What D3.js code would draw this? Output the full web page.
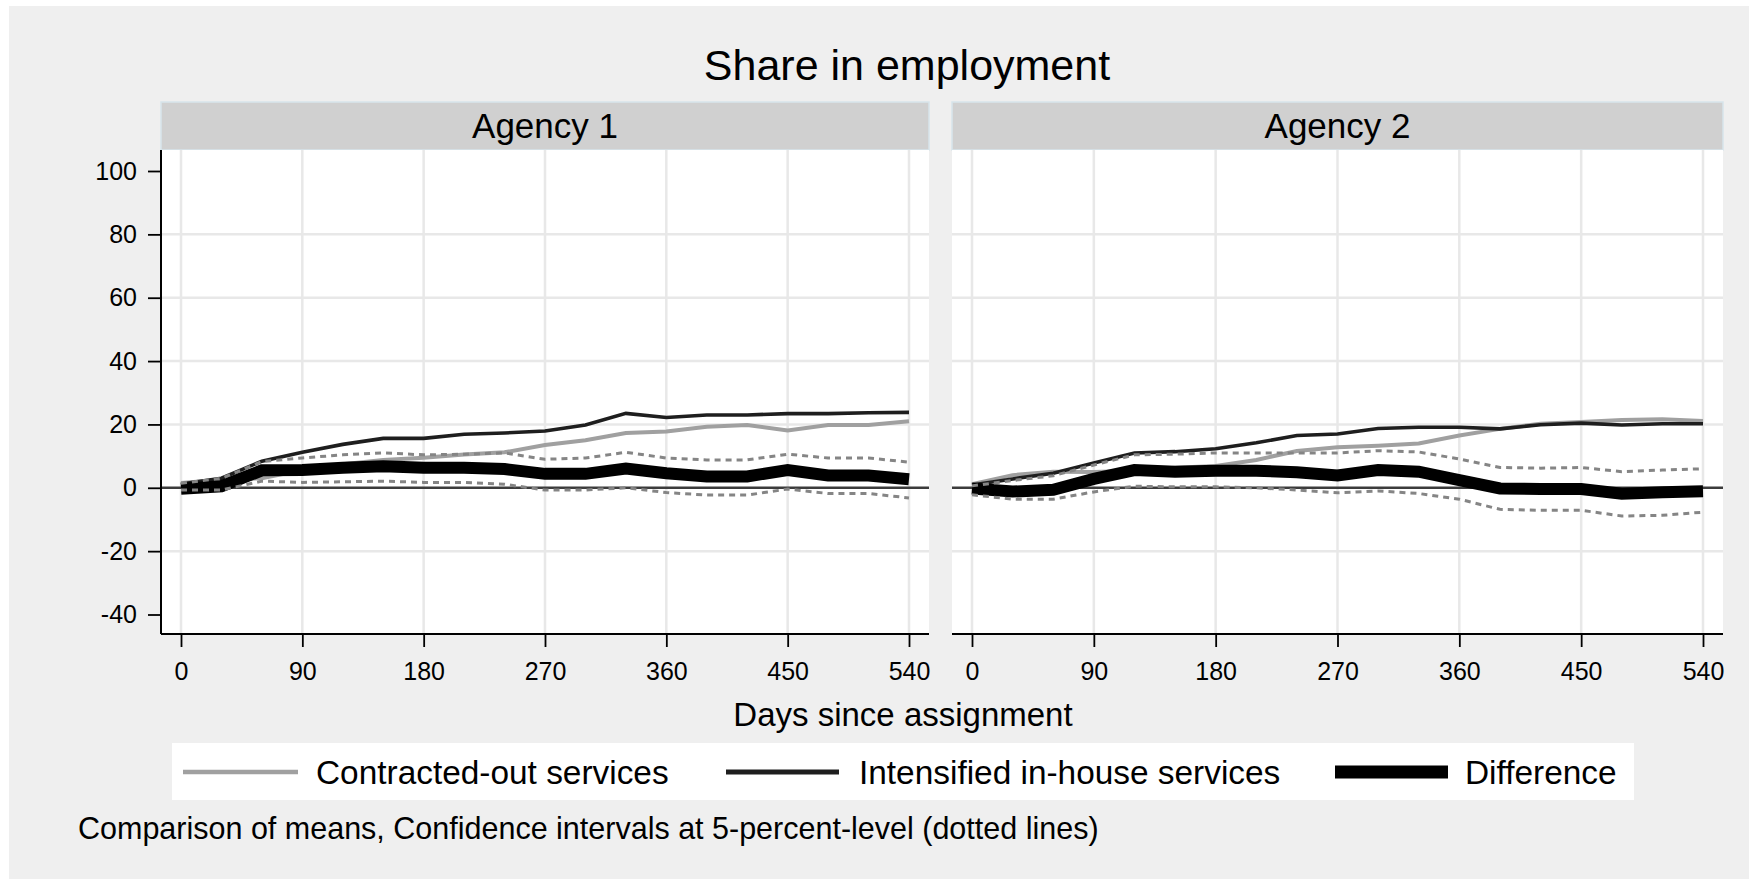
<!DOCTYPE html>
<html>
<head>
<meta charset="utf-8">
<script src="https://cdn.jsdelivr.net/npm/d3@7/dist/d3.min.js"></script>
<style>
  html, body { margin: 0; padding: 0; background: #ffffff; }
  svg { display: block; }
  text { font-family: "Liberation Sans", Arial, sans-serif; fill: #000; }
</style>
</head>
<body>
<svg id="chart" width="1749" height="879"></svg>
<script>
// Days since assignment (observation points)
const days = [0, 30, 60, 90, 120, 150, 180, 210, 240, 270, 300, 330, 360, 390, 420, 450, 480, 510, 540];

// Agency 1: share in employment (percent)
const agency1Contracted = [1.5, 2.5, 3.0, 5.6, 7.4, 8.8, 9.5, 10.5, 11.2, 13.5, 15.0, 17.3, 17.8, 19.3, 19.8, 18.1, 19.8, 19.8, 21.0];
const agency1InHouse    = [1.2, 3.0, 8.4, 11.2, 13.7, 15.6, 15.6, 16.9, 17.3, 17.9, 19.8, 23.5, 22.2, 23.0, 23.0, 23.4, 23.4, 23.7, 23.8];
const agency1Diff       = [-0.3, 0.5, 5.5, 5.6, 6.3, 6.8, 6.3, 6.3, 5.9, 4.4, 4.4, 6.1, 4.6, 3.6, 3.6, 5.6, 3.9, 3.9, 2.7];
const agency1Upper      = [1.4, 3.0, 8.3, 9.4, 10.4, 11.0, 10.4, 10.6, 11.0, 9.0, 9.4, 11.2, 9.4, 8.8, 8.8, 10.6, 9.4, 9.4, 8.1];
const agency1Lower      = [-0.7, -0.7, 2.1, 1.7, 1.9, 2.1, 1.7, 1.7, 1.1, -0.7, -0.7, 0.0, -1.5, -2.3, -2.3, -0.4, -1.8, -1.8, -3.2];

// Agency 2: share in employment (percent)
const agency2Contracted = [1.1, 4.0, 5.1, 5.0, 5.4, 6.3, 6.9, 8.8, 11.6, 12.8, 13.3, 14.0, 16.5, 18.6, 20.2, 20.8, 21.4, 21.6, 21.1];
const agency2InHouse    = [0.9, 2.8, 4.6, 7.8, 11.0, 11.4, 12.3, 14.2, 16.5, 17.0, 18.7, 19.1, 19.1, 18.6, 19.9, 20.4, 19.8, 20.2, 20.2];
const agency2Diff       = [-0.2, -1.2, -0.6, 2.8, 5.6, 5.1, 5.4, 5.4, 4.9, 3.9, 5.6, 5.1, 2.4, -0.2, -0.4, -0.4, -1.9, -1.4, -1.1];
const agency2Upper      = [0.6, 2.3, 3.8, 7.2, 10.4, 10.6, 11.0, 11.0, 11.0, 11.0, 11.7, 11.3, 9.1, 6.4, 6.2, 6.4, 5.1, 5.6, 6.0];
const agency2Lower      = [-2.2, -3.6, -3.6, -1.3, 0.5, 0.3, 0.3, 0.0, -0.7, -1.6, -1.0, -1.8, -3.6, -6.8, -7.1, -7.1, -8.9, -8.7, -7.7];

// Axis ticks and labels
const xTicks = [0, 90, 180, 270, 360, 450, 540];
const yTicks = [-40, -20, 0, 20, 40, 60, 80, 100];
const yGrid = [-20, 20, 40, 60, 80];
const panelNames = ["Agency 1", "Agency 2"];
const seriesNames = ["Contracted-out services", "Intensified in-house services", "Difference"];
const titleText = "Share in employment";
const xTitleText = "Days since assignment";
const noteText = "Comparison of means, Confidence intervals at 5-percent-level (dotted lines)";

const panelData = [
  { contracted: agency1Contracted, inHouse: agency1InHouse, diff: agency1Diff, upper: agency1Upper, lower: agency1Lower },
  { contracted: agency2Contracted, inHouse: agency2InHouse, diff: agency2Diff, upper: agency2Upper, lower: agency2Lower }
];

const svg = d3.select("#chart");

// outer graph region
svg.append("rect").attr("x", 9).attr("y", 6).attr("width", 1749 - 9).attr("height", 879 - 6)
  .attr("fill", "#efefef");

// title
svg.append("text").attr("x", 907).attr("y", 80).attr("text-anchor", "middle")
  .style("font-size", "43px").text(titleText);

const plotTop = 150, plotBottom = 634;
const panelBox = [{ x0: 161, x1: 929 }, { x0: 952, x1: 1723 }];

const y = d3.scaleLinear().domain([-40, 100]).range([614.5, 171]);
const plainNumber = v => String(v);

const styles = {
  contracted: { stroke: "#a0a0a0", width: 4 },
  inHouse: { stroke: "#1e1e1e", width: 3.6 },
  diff: { stroke: "#000000", width: 12 }
};

panelBox.forEach((pb, i) => {
  const g = svg.append("g");
  const x = d3.scaleLinear().domain([0, 540]).range([pb.x0 + 20, pb.x1 - 20]);
  const d = panelData[i];

  // strip
  g.append("rect").attr("x", pb.x0).attr("y", 102).attr("width", pb.x1 - pb.x0).attr("height", 48)
    .attr("fill", "#d0d0d0").attr("stroke", "#d7e5eb").attr("stroke-width", 1.5);
  g.append("text").attr("x", (pb.x0 + pb.x1) / 2).attr("y", 138).attr("text-anchor", "middle")
    .style("font-size", "35px").text(panelNames[i]);

  // plot area
  g.append("rect").attr("x", pb.x0).attr("y", plotTop).attr("width", pb.x1 - pb.x0)
    .attr("height", plotBottom - plotTop).attr("fill", "#ffffff");

  // grid
  g.selectAll(".hgrid").data(yGrid).join("line")
    .attr("x1", pb.x0).attr("x2", pb.x1).attr("y1", v => y(v)).attr("y2", v => y(v))
    .attr("stroke", "#e8e8e8").attr("stroke-width", 2.5);
  g.selectAll(".vgrid").data(xTicks).join("line")
    .attr("x1", v => x(v)).attr("x2", v => x(v)).attr("y1", plotTop).attr("y2", plotBottom)
    .attr("stroke", "#e8e8e8").attr("stroke-width", 2.5);

  // reference line at zero
  g.append("line").attr("x1", pb.x0).attr("x2", pb.x1).attr("y1", y(0)).attr("y2", y(0))
    .attr("stroke", "#3c3c3c").attr("stroke-width", 2.6);

  const line = arr => d3.line().x((v, k) => x(days[k])).y(v => y(v))(arr);

  ["contracted", "inHouse", "diff"].forEach(key => {
    g.append("path").attr("d", line(d[key])).attr("fill", "none")
      .attr("stroke", styles[key].stroke).attr("stroke-width", styles[key].width)
      .attr("stroke-linejoin", "miter");
  });
  ["upper", "lower"].forEach(key => {
    g.append("path").attr("d", line(d[key])).attr("fill", "none")
      .attr("stroke", "#858585").attr("stroke-width", 3)
      .attr("stroke-dasharray", "6,5");
  });

  // x axis
  const xa = g.append("g").attr("transform", `translate(0,${plotBottom})`)
    .call(d3.axisBottom(x).tickValues(xTicks).tickFormat(plainNumber)
      .tickSize(13).tickSizeOuter(0).tickPadding(15));
  xa.select(".domain").remove();
  xa.selectAll(".tick line").attr("stroke", "#000").attr("stroke-width", 1.8);
  xa.selectAll(".tick text").style("font-size", "25px")
    .style("font-family", '"Liberation Sans", Arial, sans-serif');
  g.append("line").attr("x1", pb.x0).attr("x2", pb.x1).attr("y1", plotBottom).attr("y2", plotBottom)
    .attr("stroke", "#000").attr("stroke-width", 2);

  // y axis on the first panel only
  if (i === 0) {
    const ya = g.append("g").attr("transform", `translate(${pb.x0},0)`)
      .call(d3.axisLeft(y).tickValues(yTicks).tickFormat(plainNumber)
        .tickSize(13).tickSizeOuter(0).tickPadding(11));
    ya.select(".domain").remove();
    ya.selectAll(".tick line").attr("stroke", "#000").attr("stroke-width", 1.8);
    ya.selectAll(".tick text").style("font-size", "25px")
      .style("font-family", '"Liberation Sans", Arial, sans-serif');
    g.append("line").attr("x1", pb.x0).attr("x2", pb.x0).attr("y1", plotTop).attr("y2", plotBottom)
      .attr("stroke", "#000").attr("stroke-width", 2);
  }
});

// x axis title
svg.append("text").attr("x", 903).attr("y", 726).attr("text-anchor", "middle")
  .style("font-size", "33px").text(xTitleText);

// legend
const legend = svg.append("g");
legend.append("rect").attr("x", 172).attr("y", 743).attr("width", 1634 - 172).attr("height", 57)
  .attr("fill", "#ffffff");
const legendItems = [
  { key: "contracted", x1: 183, x2: 298, tx: 316, w: 4.5 },
  { key: "inHouse", x1: 726, x2: 839, tx: 859, w: 5 },
  { key: "diff", x1: 1335, x2: 1448, tx: 1465, w: 13 }
];
legendItems.forEach((it, k) => {
  legend.append("line").attr("x1", it.x1).attr("x2", it.x2).attr("y1", 772).attr("y2", 772)
    .attr("stroke", styles[it.key].stroke).attr("stroke-width", it.w);
  legend.append("text").attr("x", it.tx).attr("y", 784).style("font-size", "33.4px").text(seriesNames[k]);
});

// note
svg.append("text").attr("x", 78).attr("y", 839).style("font-size", "30.5px").text(noteText);
</script>
</body>
</html>
